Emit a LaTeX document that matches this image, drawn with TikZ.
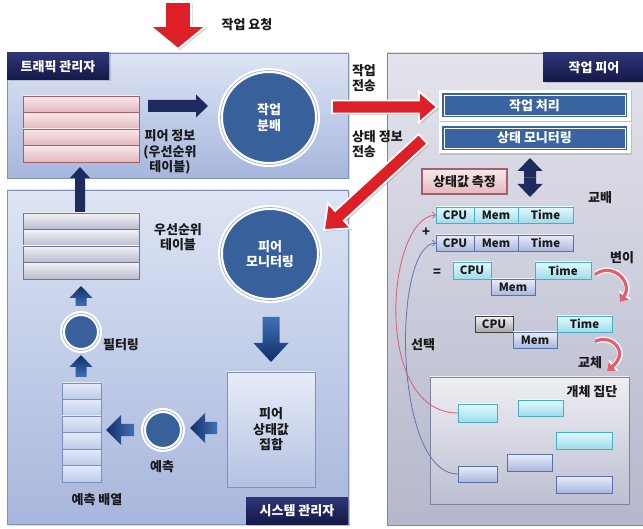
\documentclass[tikz,border=0pt]{standalone}
\usepackage{fontspec}
\setmainfont{Noto Sans CJK KR}
\usetikzlibrary{calc,arrows.meta,shapes.geometric,shadows}

\definecolor{navyA}{HTML}{2E3676}
\definecolor{navyB}{HTML}{141948}
\definecolor{mgrTop}{HTML}{DDE4F4}
\definecolor{mgrBot}{HTML}{A7B6DC}
\definecolor{mgrEdge}{HTML}{7F90BF}
\definecolor{peerTop}{HTML}{E3E3EC}
\definecolor{peerBot}{HTML}{B5B8CB}
\definecolor{peerEdge}{HTML}{7D83A3}
\definecolor{diskBlue}{HTML}{38609A}
\definecolor{ringLine}{HTML}{9FB0D0}
\definecolor{barBlue}{HTML}{3964A0}
\definecolor{redA}{HTML}{DD1F27}
\definecolor{pinkTop}{HTML}{F8E8EA}
\definecolor{pinkBot}{HTML}{E2B8BD}
\definecolor{pinkEdge}{HTML}{A2606A}
\definecolor{grayTop}{HTML}{F3F3F8}
\definecolor{grayBot}{HTML}{B8BBCD}
\definecolor{grayEdge}{HTML}{6E7498}
\definecolor{predTop}{HTML}{E4EBF8}
\definecolor{predBot}{HTML}{BCCBE8}
\definecolor{predEdge}{HTML}{7890C0}
\definecolor{cyanTop}{HTML}{E4FAFD}
\definecolor{cyanBot}{HTML}{9EDCEB}
\definecolor{cyanEdge}{HTML}{48AEC6}
\definecolor{lavTop}{HTML}{E8EDF9}
\definecolor{lavBot}{HTML}{A9B8DF}
\definecolor{lavEdge}{HTML}{5A70A8}
\definecolor{cpuTop}{HTML}{F2F2F2}
\definecolor{cpuBot}{HTML}{A8A8A8}
\definecolor{arrNavy}{HTML}{1E2B5E}
\definecolor{arrBlueA}{HTML}{4170B4}
\definecolor{arrBlueB}{HTML}{0F2E68}
\definecolor{curveRed}{HTML}{E35E6E}
\definecolor{lineRed}{HTML}{E25A66}
\definecolor{lineBlue}{HTML}{5A78B0}
\definecolor{txt}{HTML}{1A1A1A}

% block arrow: style, start, tip, half shaft width, half head width, head length
\newcommand\blockarrow[6]{%
  \coordinate (ba-h) at ($(#3)!#6!(#2)$);
  \path[#1] ($(#2)!#4!90:(#3)$) -- ($(ba-h)!#4!90:(#3)$) -- ($(ba-h)!#5!90:(#3)$)
    -- (#3) -- ($(ba-h)!#5!-90:(#3)$) -- ($(ba-h)!#4!-90:(#3)$) -- ($(#2)!#4!-90:(#3)$) -- cycle;
}

\tikzset{
  x=1pt, y=-1pt,
  every node/.style={inner sep=0pt, outer sep=0pt, text=txt, align=center,
    font=\bfseries\fontsize{13}{15.5}\selectfont},
  panel/.style={rectangle, draw=mgrEdge, line width=0.9pt, top color=mgrTop, bottom color=mgrBot,
    drop shadow={opacity=0.25, shadow xshift=1.5pt, shadow yshift=-1.5pt}},
  peerpanel/.style={rectangle, draw=peerEdge, line width=0.9pt, top color=peerTop, bottom color=peerBot},
  tagbox/.style={rectangle, top color=navyA, bottom color=navyB, text=white,
    font=\bfseries\fontsize{13}{15}\selectfont,
    drop shadow={opacity=0.35, shadow xshift=1.5pt, shadow yshift=-1.5pt}},
  pinkrow/.style={rectangle, minimum width=116pt, minimum height=16.5pt, draw=pinkEdge,
    line width=0.8pt, top color=pinkTop, bottom color=pinkBot},
  grayrow/.style={rectangle, minimum width=116pt, minimum height=16.5pt, draw=grayEdge,
    line width=0.8pt, top color=grayTop, bottom color=grayBot},
  predrow/.style={rectangle, minimum width=39pt, minimum height=16.5pt, draw=predEdge,
    line width=0.8pt, top color=predTop, bottom color=predBot},
  disk/.style={ellipse, fill=diskBlue, draw=white, line width=5pt, text=white,
    preaction={drop shadow={opacity=0.3, shadow xshift=1.2pt, shadow yshift=-1.2pt}},
    postaction={draw=ringLine, line width=0.7pt}},
  bar/.style={rectangle, minimum width=181pt, minimum height=20pt, fill=barBlue, draw=white,
    line width=0.8pt, text=white,
    preaction={draw=black!25, line width=11pt, transform canvas={shift={(1.2pt,-1.5pt)}}},
    preaction={draw=white, line width=11pt},
    preaction={draw=barBlue, line width=4pt}},
  cellbase/.style={rectangle, line width=0.8pt, font=\bfseries\fontsize{11.5}{12}\selectfont},
  cyancell/.style={cellbase, draw=cyanEdge, top color=cyanTop, bottom color=cyanBot},
  lavcell/.style={cellbase, draw=lavEdge, top color=lavTop, bottom color=lavBot},
  graycell/.style={cellbase, draw=black!75, top color=cpuTop, bottom color=cpuBot},
  bigred/.style={fill=redA, draw=white, line width=1.8pt, line join=miter,
    drop shadow={opacity=0.4, shadow xshift=1.5pt, shadow yshift=-1.5pt}},
  navyfill/.style={fill=arrNavy},
  bluedown/.style={top color=arrBlueA, bottom color=arrBlueB},
  blueleft/.style={left color=arrBlueB, right color=arrBlueA},
  blueup/.style={top color=arrBlueB, bottom color=arrBlueA},
  swirl/.style={draw=curveRed, line width=3.2pt, line cap=round,
    -{Triangle[length=7pt,width=11pt]},
    preaction={draw=white, line width=5.5pt, -{Triangle[length=9pt,width=14pt]}}},
  thinred/.style={draw=lineRed, line width=0.8pt, -{Straight Barb[length=3pt,width=6pt]}},
  thinblue/.style={draw=lineBlue, line width=0.8pt, -{Straight Barb[length=3pt,width=6pt]}},
}

\begin{document}
\begin{tikzpicture}
\useasboundingbox (0,0) rectangle (643,529);
\fill[white] (0,0) rectangle (643,529);

% ---------- panels ----------
\node[panel, minimum width=341pt, minimum height=125pt] (traffic) at (177.5,115.5) {};
\node[panel, minimum width=341pt, minimum height=334pt] (sysmgr) at (177.5,357) {};
\node[peerpanel, minimum width=258pt, minimum height=472pt] (peer) at (516,289) {};

\node[tagbox, minimum width=102pt, minimum height=27pt] (ttag) at (58,66.5) {트래픽 관리자};
\node[tagbox, minimum width=102pt, minimum height=29pt] (ptag) at (594,67.5) {작업 피어};
\node[tagbox, minimum width=102pt, minimum height=27pt] (stag) at (297,510.5) {시스템 관리자};

% ---------- traffic manager ----------
\foreach \i/\y in {1/104.25,2/120.75,3/137.25,4/153.75}
  \node[pinkrow] (pk\i) at (81,\y) {};
\node (pinfo) at (170,152) {피어 정보\\(우선순위\\테이블)};
\node[disk, minimum width=97pt, minimum height=94pt] (dist) at (269,117.5) {작업\\분배};
\coordinate (na-s) at (148,106);
\coordinate (na-t) at (208,106);
\blockarrow{navyfill}{na-s}{na-t}{6pt}{11.5pt}{12pt}

% request arrow from the top
\coordinate (req-s) at (178,2);
\coordinate (req-t) at (178,49);
\blockarrow{bigred}{req-s}{req-t}{13pt}{28pt}{23pt}
\node (reqlbl) at (247,25) {작업 요청};

% ---------- system manager ----------
\foreach \i/\y in {1/221.25,2/237.75,3/254.25,4/270.75}
  \node[grayrow] (gr\i) at (81,\y) {};
\node (prtbl) at (178,237) {우선순위\\테이블};
\node[disk, minimum width=99pt, minimum height=93pt] (mon) at (270,254) {피어\\모니터링};
\node[rectangle, minimum width=88pt, minimum height=115pt, draw=mgrEdge, line width=0.8pt,
  top color=mgrTop!70!white, bottom color=mgrBot!85!white] (coll) at (271,429.5) {피어\\상태값\\집합};
\node[disk, minimum size=39pt] (pred) at (163,430) {};
\node (predlbl) at (162,467) {예측};
\foreach \i/\y in {1/391.25,2/407.75,3/424.25,4/440.75,5/457.25,6/473.75}
  \node[predrow] (pa\i) at (81.5,\y) {};
\node (palbl) at (97,500) {예측 배열};
\node[disk, minimum size=37pt] (filt) at (81,332) {};
\node (filtlbl) at (121,345) {필터링};

% block arrows inside the system manager
\coordinate (dn-s) at (271,317);
\coordinate (dn-t) at (271,362);
\blockarrow{bluedown}{dn-s}{dn-t}{8.5pt}{17.5pt}{19pt}
\coordinate (l1-s) at (217,428);
\coordinate (l1-t) at (190,428);
\blockarrow{blueleft}{l1-s}{l1-t}{6pt}{15pt}{15pt}
\coordinate (l2-s) at (134,430);
\coordinate (l2-t) at (106,430);
\blockarrow{blueleft}{l2-s}{l2-t}{6pt}{15pt}{15pt}
\coordinate (u1-s) at (81,377);
\coordinate (u1-t) at (81,355);
\blockarrow{blueup}{u1-s}{u1-t}{5.5pt}{11.5pt}{12pt}
\coordinate (u2-s) at (81,306);
\coordinate (u2-t) at (81,286);
\blockarrow{blueup}{u2-s}{u2-t}{5.5pt}{11.5pt}{12pt}
\coordinate (up-s) at (80,212);
\coordinate (up-t) at (80,167);
\blockarrow{navyfill}{up-s}{up-t}{5pt}{10pt}{11pt}

% ---------- work peer ----------
\node[bar] (work) at (534.5,105.5) {작업 처리};
\node[bar] (stat) at (534.5,138) {상태 모니터링};

\coordinate (dbl-m) at (530,177.5);
\coordinate (dbl-a) at (530,158);
\coordinate (dbl-b) at (530,197);
\blockarrow{navyfill}{dbl-m}{dbl-a}{6pt}{12.5pt}{13pt}
\blockarrow{navyfill}{dbl-m}{dbl-b}{6pt}{12.5pt}{13pt}

\node[rectangle, minimum width=85pt, minimum height=25pt, draw=pinkEdge, line width=1.1pt,
  top color=pinkTop, bottom color=pinkBot,
  drop shadow={opacity=0.25, shadow xshift=1pt, shadow yshift=-1pt}] (meas) at (464.5,181.5) {상태값 측정};
\node (xover) at (600,198) {교배};

% chromosomes: CPU | Mem | Time
\node[cyancell, minimum width=38pt, minimum height=16pt] (a1) at (455,215) {CPU};
\node[cyancell, minimum width=44pt, minimum height=16pt] (a2) at (496,215) {Mem};
\node[cyancell, minimum width=55pt, minimum height=16pt] (a3) at (545.5,215) {Time};
\node (plus) at (426,232) {+};
\node[lavcell, minimum width=38pt, minimum height=16pt] (b1) at (455,243) {CPU};
\node[lavcell, minimum width=44pt, minimum height=16pt] (b2) at (496,243) {Mem};
\node[lavcell, minimum width=55pt, minimum height=16pt] (b3) at (545.5,243) {Time};
\node (eq) at (437,273) {=};
\node[cyancell, minimum width=38pt, minimum height=17pt] (c1) at (472,270.5) {CPU};
\node[lavcell, minimum width=44pt, minimum height=16pt] (c2) at (513,287) {Mem};
\node[cyancell, minimum width=56pt, minimum height=17pt] (c3) at (563,270.5) {Time};
\node (mutlbl) at (622,258) {변이};
\node[graycell, minimum width=38pt, minimum height=16pt] (d1) at (494,324) {CPU};
\node[lavcell, minimum width=44pt, minimum height=16pt] (d2) at (535,340) {Mem};
\node[cyancell, minimum width=55pt, minimum height=16pt] (d3) at (584.5,324) {Time};
\node (replbl) at (590,363) {교체};
\node (sellbl) at (423,345) {선택};

% curved arrows for mutation and replacement
\coordinate (mu-s) at (596,274);
\coordinate (mu-t) at (620,302);
\draw[swirl] (mu-s) .. controls (612,262) and (634,282) .. (mu-t);
\coordinate (re-s) at (596,341);
\coordinate (re-t) at (607,371);
\draw[swirl] (re-s) .. controls (612,334) and (630,352) .. (re-t);

% population
\node[rectangle, minimum width=199pt, minimum height=127pt, draw=peerEdge, line width=0.9pt,
  top color=peerTop!60!white, bottom color=peerBot!90!white,
  drop shadow={opacity=0.25, shadow xshift=1.2pt, shadow yshift=-1.2pt}] (pop) at (529.5,440.5) {};
\node (poplbl) at (592,392) {개체 집단};
\node[cyancell, minimum width=39pt, minimum height=18pt] (p1) at (477.5,413) {};
\node[cyancell, minimum width=45pt, minimum height=16pt] (p2) at (540.5,408) {};
\node[cyancell, minimum width=56pt, minimum height=17pt] (p3) at (584,440.5) {};
\node[lavcell, minimum width=39pt, minimum height=16pt] (q1) at (477.5,474) {};
\node[lavcell, minimum width=45pt, minimum height=17pt] (q2) at (529.5,462.5) {};
\node[lavcell, minimum width=56pt, minimum height=17pt] (q3) at (584,484.5) {};

% selection curves
\draw[thinred] (p1.west) .. controls (372,413) and (386,218) .. (a1.west);
\draw[thinblue] (q1.west) .. controls (393,474) and (392,246) .. (b1.west);

% ---------- transfer arrows between the panels ----------
\node[anchor=west, align=left] (sendlbl) at (352,78) {작업\\전송};
\node[anchor=west, align=left] (statlbl) at (352,144) {상태 정보\\전송};
\coordinate (snd-s) at (332,107);
\coordinate (snd-t) at (437,107);
\blockarrow{bigred}{snd-s}{snd-t}{6.5pt}{15.5pt}{18pt}
\coordinate (rep-s) at (423,139);
\coordinate (rep-t) at (324,230);
\blockarrow{bigred}{rep-s}{rep-t}{6.5pt}{17pt}{21pt}
\end{tikzpicture}
\end{document}
